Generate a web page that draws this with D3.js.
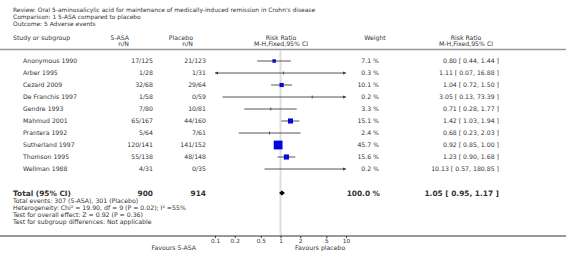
<!DOCTYPE html>
<html>
<head>
<meta charset="utf-8">
<script src="https://cdn.jsdelivr.net/npm/d3@7"></script>
<style>
  html, body { margin: 0; padding: 0; background: #fff; }
  svg text { font-family: "DejaVu Sans", sans-serif; fill: #333; }
</style>
</head>
<body>
<svg id="chart" width="566" height="253"></svg>
<script>
// data
var studies = ['Anonymous 1990', 'Arber 1995', 'Cezard 2009', 'De Franchis 1997', 'Gendre 1993',
  'Mahmud 2001', 'Prantera 1992', 'Sutherland 1997', 'Thomson 1995', 'Wellman 1988'];
var asaEvents = ['17/125', '1/28', '32/68', '1/58', '7/80', '65/167', '5/64', '120/141', '55/138', '4/31'];
var placeboEvents = ['21/123', '1/31', '29/64', '0/59', '10/81', '44/160', '7/61', '141/152', '48/148', '0/35'];
var weights = [7.1, 0.3, 10.1, 0.2, 3.3, 15.1, 2.4, 45.7, 15.6, 0.2];
var rr = [0.80, 1.11, 1.04, 3.05, 0.71, 1.42, 0.68, 0.92, 1.23, 10.13];
var rrLow = [0.44, 0.07, 0.72, 0.13, 0.28, 1.03, 0.23, 0.85, 0.90, 0.57];
var rrHigh = [1.44, 16.88, 1.50, 73.39, 1.77, 1.94, 2.03, 1.00, 1.68, 180.85];
var total = { asaN: 900, placeboN: 914, weight: 100.0, rr: 1.05, low: 0.95, high: 1.17 };
var axisTicks = [0.1, 0.2, 0.5, 1, 2, 5, 10];
var headerLines = [
  'Review:  Oral 5-aminosalicylic acid for maintenance of medically-induced remission in Crohn\'s disease',
  'Comparison:  1 5-ASA compared to placebo',
  'Outcome:  5 Adverse events'
];
var footerLines = [
  'Total events: 307 (5-ASA), 301 (Placebo)',
  'Heterogeneity: Chi\u00b2 = 19.90, df = 9 (P = 0.02); I\u00b2 =55%',
  'Test for overall effect: Z = 0.92 (P = 0.36)',
  'Test for subgroup differences: Not applicable'
];

var svg = d3.select('#chart');
var fs = 6.2;

var x = d3.scaleLog().domain([0.1, 10]).range([215, 346]);
var y = d3.scalePoint().domain(studies).range([61, 169]);
var fmt = d3.format('.2f');

var rows = studies.map(function (s, i) {
  return { name: s, a: asaEvents[i], p: placeboEvents[i], w: weights[i], rr: rr[i], lo: rrLow[i], hi: rrHigh[i] };
});

// header text
svg.selectAll('.hdr').data(headerLines).enter().append('text')
  .attr('x', 13).attr('y', function (d, i) { return 12 + i * 7; })
  .style('font-size', '5.95px').text(function (d) { return d; });

var colHead = [
  { t1: 'Study or subgroup', t2: '', x: 13, anchor: 'start' },
  { t1: '5-ASA', t2: 'n/N', x: 129, anchor: 'end' },
  { t1: 'Placebo', t2: 'n/N', x: 193, anchor: 'end' },
  { t1: 'Risk Ratio', t2: 'M-H,Fixed,95% CI', x: 281, anchor: 'middle' },
  { t1: 'Weight', t2: '', x: 375, anchor: 'middle' },
  { t1: 'Risk Ratio', t2: 'M-H,Fixed,95% CI', x: 466, anchor: 'middle' }
];
colHead.forEach(function (c) {
  svg.append('text').attr('x', c.x).attr('y', 40).attr('text-anchor', c.anchor)
    .style('font-size', fs + 'px').text(c.t1);
  svg.append('text').attr('x', c.x).attr('y', 46).attr('text-anchor', c.anchor)
    .style('font-size', fs + 'px').text(c.t2);
});

svg.append('line').attr('x1', 0).attr('x2', 566).attr('y1', 49.5).attr('y2', 49.5)
  .attr('stroke', '#999').attr('stroke-width', 1.5);

// line of no effect
svg.append('line').attr('x1', x(1)).attr('x2', x(1)).attr('y1', 50).attr('y2', 236)
  .attr('stroke', '#ddd').attr('stroke-width', 2);

// study text columns
var row = svg.selectAll('.row').data(rows).enter().append('g')
  .attr('class', 'row')
  .attr('transform', function (d) { return 'translate(0,' + y(d.name) + ')'; });

row.append('text').attr('x', 23).attr('dy', '0.35em').style('font-size', fs + 'px').text(function (d) { return d.name; });
row.append('text').attr('x', 153).attr('dy', '0.35em').attr('text-anchor', 'end').style('font-size', fs + 'px').text(function (d) { return d.a; });
row.append('text').attr('x', 206).attr('dy', '0.35em').attr('text-anchor', 'end').style('font-size', fs + 'px').text(function (d) { return d.p; });
row.append('text').attr('x', 379).attr('dy', '0.35em').attr('text-anchor', 'end').style('font-size', fs + 'px').text(function (d) { return d.w.toFixed(1) + ' %'; });
row.append('text').attr('x', 499).attr('dy', '0.35em').attr('text-anchor', 'end').style('font-size', fs + 'px')
  .text(function (d) { return fmt(d.rr) + ' [ ' + fmt(d.lo) + ', ' + fmt(d.hi) + ' ]'; });

// confidence intervals, clipped to the axis with arrows
var dom = x.domain();
row.append('line')
  .attr('x1', function (d) { return x(Math.max(d.lo, dom[0])); })
  .attr('x2', function (d) { return x(Math.min(d.hi, dom[1])); })
  .attr('stroke', '#555').attr('stroke-width', 1);

row.filter(function (d) { return d.hi > dom[1]; }).append('path')
  .attr('d', function () { var e = x(dom[1]); return 'M' + e + ',0L' + (e - 3) + ',-1.5L' + (e - 3) + ',1.5Z'; })
  .attr('fill', '#333');
row.filter(function (d) { return d.lo < dom[0]; }).append('path')
  .attr('d', function () { var e = x(dom[0]); return 'M' + e + ',0L' + (e + 3) + ',-1.5L' + (e + 3) + ',1.5Z'; })
  .attr('fill', '#333');

// point estimates: squares sized by weight, tiny weights as ticks
row.filter(function (d) { return d.w >= 5 && d.rr <= dom[1]; }).append('rect')
  .attr('x', function (d) { return x(d.rr) - 0.65 * Math.sqrt(d.w); })
  .attr('y', function (d) { return -0.65 * Math.sqrt(d.w); })
  .attr('width', function (d) { return 1.3 * Math.sqrt(d.w); })
  .attr('height', function (d) { return 1.3 * Math.sqrt(d.w); })
  .attr('fill', '#0000ee');
row.filter(function (d) { return d.rr <= dom[1]; }).append('line')
  .attr('x1', function (d) { return x(d.rr); }).attr('x2', function (d) { return x(d.rr); })
  .attr('y1', -1.5).attr('y2', 1.5)
  .attr('stroke', '#333').attr('stroke-width', 0.8);

// total row
var ty = 193;
var tot = svg.append('g').attr('transform', 'translate(0,' + ty + ')')
  .style('font-weight', 'bold').style('font-size', '7.4px');
tot.append('text').attr('x', 13).attr('dy', '0.35em').text('Total (95% CI)');
tot.append('text').attr('x', 153).attr('dy', '0.35em').attr('text-anchor', 'end').text(total.asaN);
tot.append('text').attr('x', 206).attr('dy', '0.35em').attr('text-anchor', 'end').text(total.placeboN);
tot.append('text').attr('x', 380).attr('dy', '0.35em').attr('text-anchor', 'end').text(total.weight.toFixed(1) + ' %');
tot.append('text').attr('x', 499).attr('dy', '0.35em').attr('text-anchor', 'end')
  .text(fmt(total.rr) + ' [ ' + fmt(total.low) + ', ' + fmt(total.high) + ' ]');
tot.append('path')
  .attr('d', 'M' + x(total.low) + ',0L' + x(total.rr) + ',-2.5L' + x(total.high) + ',0L' + x(total.rr) + ',2.5Z')
  .attr('fill', '#000');

svg.selectAll('.foot').data(footerLines).enter().append('text')
  .attr('x', 13).attr('y', function (d, i) { return 202.5 + i * 7; })
  .style('font-size', fs + 'px').text(function (d) { return d; });

// axis
svg.append('line').attr('x1', 0).attr('x2', 566).attr('y1', 236).attr('y2', 236)
  .attr('stroke', '#333').attr('stroke-width', 1);
var axis = d3.axisBottom(x).tickValues(axisTicks).tickFormat(function (d) { return String(d); })
  .tickSize(2).tickPadding(0.5);
var ag = svg.append('g').attr('transform', 'translate(0,236)').call(axis);
ag.select('.domain').remove();
ag.selectAll('line').attr('stroke', '#333');
ag.selectAll('text').style('font-size', '5.8px').attr('fill', '#333');

svg.append('text').attr('x', 196).attr('y', 249.5).attr('text-anchor', 'end')
  .style('font-size', fs + 'px').text('Favours 5-ASA');
svg.append('text').attr('x', 295).attr('y', 249.5)
  .style('font-size', fs + 'px').text('Favours placebo');
</script>
</body>
</html>
